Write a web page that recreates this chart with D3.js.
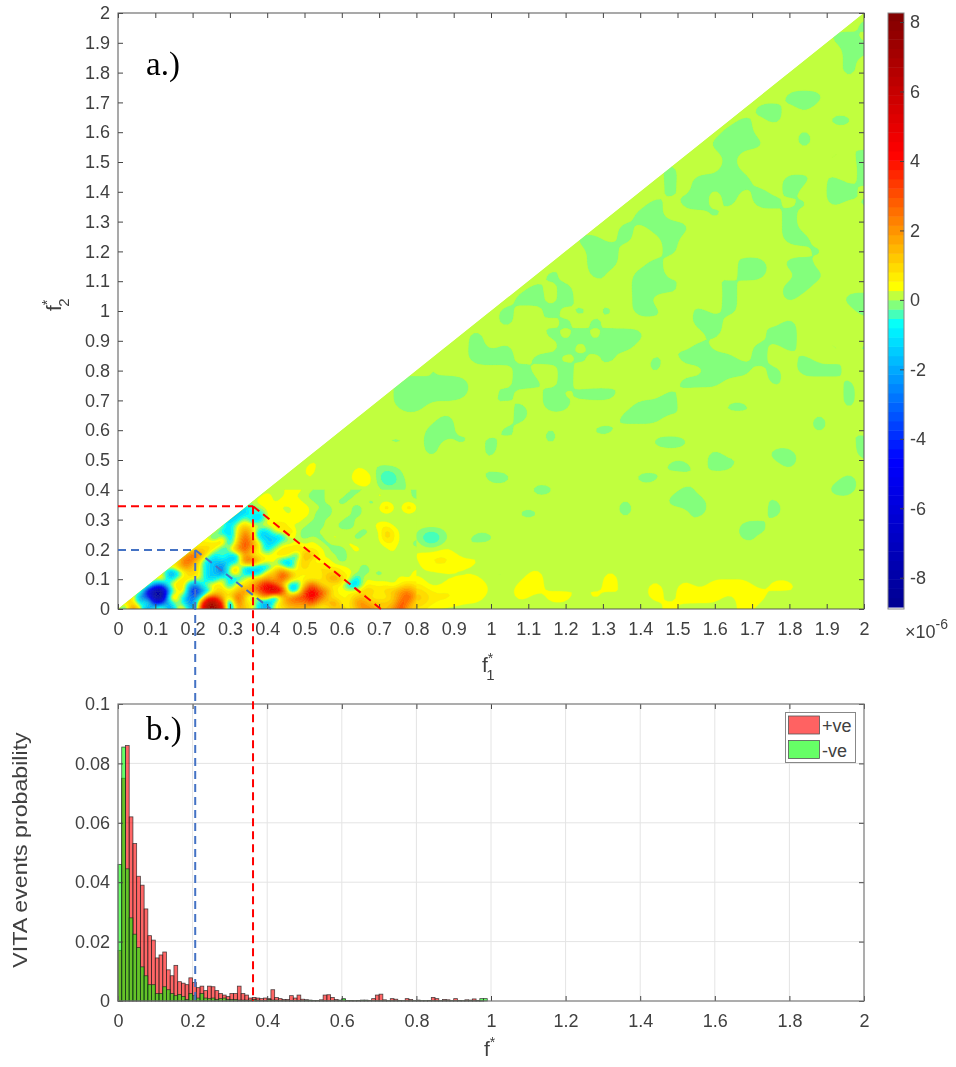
<!DOCTYPE html>
<html><head><meta charset="utf-8">
<script src="https://cdn.jsdelivr.net/npm/d3@7/dist/d3.min.js"></script>
<style>
html,body{margin:0;padding:0;background:#fff}
svg{display:block;filter:blur(0.45px)}
text{font-family:"Liberation Sans",Arial,sans-serif;fill:#404040}
.domain{display:none}
</style></head><body><div id="c"></div>
<script>
// ---------- data ----------
const ticksA = ["0","0.1","0.2","0.3","0.4","0.5","0.6","0.7","0.8","0.9","1","1.1","1.2","1.3","1.4","1.5","1.6","1.7","1.8","1.9","2"];
const ticksBx = ["0","0.2","0.4","0.6","0.8","1","1.2","1.4","1.6","1.8","2"];
const ticksBy = ["0","0.02","0.04","0.06","0.08","0.1"];
const cbTicks = [-8,-6,-4,-2,0,2,4,6,8];
const legendNames = ["+ve","-ve"];
// level key for fine field cells, in units of 1e-6
const levels = {D:-8.5,B:-6,b:-3.5,c:-1.5,m:-0.25,".":0.13,v:0.35,y:0.5,a:1.2,o:2.2,O:3.4,r:5,R:7.5};
// level key for coarse field cells
const coarseLevels = {c:-1.5,m:-0.15,n:-0.115,".":0.13,v:0.4,y:0.42,a:0.8,o:2};
// fine field: f2 = 0.02*k (row k), f1 = 0.02*c, each row starts at c = k and ends at c = 40
const fineRows = [
"ycOybyabya"+"boRRrboayc"+"cyyaaayyya"+"ayaooaaoOaa",
"yacyBbcyc"+"baRRObOyac"+"byaoooOaao"+"yyooaaaaOoy",
"abbDDoyc"+"bcoOayOaca"+"obaoOOrOay"+"yyaayyyaoOa",
"yBDDcya"+"BbcyayaooO"+"rRrccOrOoy"+"yyyaayaaooa",
"ybbyay"+"bcyaycayaO"+"rOaccaOayy"+"yccyyyy.yay",
"yacya"+"yyccaccyaa"+"oaOayyyyao"+"aycy....y.y",
"ybcy"+"ayccbyaccc"+"aaOoyyyyaa"+"yy.m.m....y",
"yao"+"ayccbyaccc"+"cyycyayayy"+"y..m.......",
"yO"+"oycccccOOa"+"yyccyay.y."+"m....v.....",
"a"+"Ooycyccoyy"+"yyaycoay.."+"m..........",
"yaaycyoOay"+"cyyaayyy.m"+"m.y....ym..",
"yyaacaOoy"+"ccymy.y.m."+".y....yy..m",
"ycacyOac"+"cccy.m.m.y"+"..m...ay...",
"yccyoac"+"cyya.mm..."+"...m..ay...",
"ycyayy"+"yya...mm.."+"mm...yy....",
"ccycc"+"yy.yy..m.."+".m.........",
"ccmc"+"yyy.yy.mm."+"..m........",
"cm."+"yy..yy..m."+"..m...a..a.",
".y"+"y.yyy..m.."+"m...m......",
"."+"y..y..mm.."+".m...y....m",
"...yy..m.."+"..m.......m"];
// coarse field: f2 = 0.04*j (row j), entries are "column i + level" at f1 = 0.04*i, all others are level "."
const coarseRows = [
"20a 37y 42y",
"20o 21a 22a 23y 24y 27y 29y 30y 32y 34y 36y 38y 39y 40y 42y 43y 46v 49v",
"20a 21m 22y 23y 24a 27y 28y 31y 33y 36y 38y 40y 41y 42y 44y 45v",
"25n 26m 28y 31m 33y",
"21a 22a 23y 24y 26y 30y 32n 34m 37y 39v 41m 45n",
"20y 22y 23m 29y 31n 43n 49n",
"21c 24m 25n 28n 33m 35m 42n 44n",
"21y 30m 38m 42n 43n 46n",
"27n 28n 31m 34m 39n 44m 47n 49m",
"21m 34n 37n 38n 39m 44n",
"19m 28m 29n 38n 43n 48m 49m",
"13y 14m 16y 17a 18c 22m 25m 26m 31m 35m 36n 39n 49m",
"13y 15m 16y 17m 24n 37n 38m 40n 41n 45n",
"14y 15m 18y 21n 25n 32n 34m 40m 42m 44m 45m 47m 50m",
"15y 16m 17y 18m 19n 21m 23m 25n 27n 29n 36n 37m 38n 50m",
"16y 17m 21n 22m 24n 26m 29n 32n 33n 45m 47n 49m",
"17m 18y 22m 27m 34m 35n 36n 38n 40n 43m 47m",
"19m 20m 25m 27n 29m 30n 35m 36m 37m 41n 42n 49n",
"19m 20m 21m 22m 23n 26m 29m 31n 32m 33m 37n 45n 49n",
"19m 20m 22m 23m 25n 27m 28n 30m 34n 38m 39n 40n 44n 49n",
"21n 27m 30m 32n 36n 40m 41m 42m 44m 46m 47m 48m",
"22n 24m 25m 26m 28n 29m 31n 33m 36n 38m 39n 40m 41n 43m 46n 49n",
"24m 26n 30m 32m 34m 37n 39m 43m 45m 48m 50n",
"24m 29m 31m 33m 34m 35n 40n 44m 45n 47n",
"26m 28n 30n 32n 37n 39m 40m 43n 45m 48m",
"26m 29m 31n 33m 35m 36n 39n 41m 50m",
"27m 28m 30m 32n 35m 38n 41m 45n 49m 50m",
"28n 30m 33n 35m 36m 37n 41m 45m 46n",
"29m 32n 35m 36m 38m 40m 42n 43n 46n 47n 49n",
"30n 32m 33m 36m 42n 43m 45m 46n",
"32m 33m 37m 41n 47m",
"31n 32n 34m 37m 40n 43n 45n 46m",
"34m 36m 37m 38n 42m 45m 49m",
"35m 36n 40m 45m",
"36m 38n 39m 41n 43n 44n 46m 48n 50n",
"37n 39m 41m 43m 45n 48m 49m",
"37n 39m 40n 41m 42m 45m 46n 48n 50n",
"37m 41m 47n 50n",
"41n 48m 50m",
"40n 41m 42n 43n 46m 49n",
"41m 42m 46n",
"42n 44m 48m 49n",
"43n 44n 46n",
"45n 46m 47n",
"",
"49m",
"49n",
"49n 50n",
"48n 49n",
"50m",
""];
// histogram: bins of width 0.01 starting at f* = 0
const posProb = [.017,.075,.086,.062,.053,.042,.039,.031,.022,.0205,.0145,.0155,.0165,.0105,.0085,.012,.0065,.006,.0055,.0078,
.0062,.0045,.005,.0035,.005,.0048,.0035,.0025,.002,.0015,.0025,.0025,.005,.0025,.002,.001,.0012,.001,.0008,.001,
.0008,.0038,.0012,.0008,.0005,.0005,.0018,.001,.002,.0006,.0004,.0002,.0002,.0002,.0004,.002,.0021,.0012,.0005,.0002,
.0004,.0002,.0002,.0001,.0001,.0001,.0002,.0002,.0008,.002,.0023,.0004,.0001,.0008,.0006,.0002,.0001,.0008,.0005,.0001,
.0003,.0001,.0001,.0002,.0012,.0008,.0001,.0005,.0004,.0001,.0008,.0002,.0001,.0004,.0003,.0007,.0002,.0001,.0,.0];
const negProb = [.046,.0855,.0445,.028,.0225,.018,.0115,.0085,.0055,.0055,.0025,.0025,.0048,.0038,.0025,.0018,.0022,.0015,.0005,.0025,
.0018,.001,.0025,.001,.0008,.001,.0005,.0008,.001,.0005,.0005,.0005,.0003,.0003,.0003,.0003,.0005,.0003,.0001,.0001,
.0005,.0003,.0003,.0001,.0001,.0001,.0002,.0001,.0002,.0001,.0003,.0003,.0001,.0001,.0001,.0001,.0001,.0001,.0001,.0003,
.0008,.0001,.0001,.0001,.0002,.0003,.0003,.0001,.0001,.0001,.0001,.0001,.0001,.0001,.0001,.0001,.0001,.0001,.0001,.0001,
.0001,.0001,.0001,.0001,.0001,.0001,.0001,.0001,.0001,.0001,.0001,.0001,.0001,.0001,.0001,.0001,.0001,.0008,.0008,.0];
// dashed guide lines, in data coordinates
const redGuideH = [[0,.345],[.362,.345]], redDiag = [[.362,.345],[.705,0]];
const blueGuideH = [[0,.198],[.207,.198]], blueDiag = [[.207,.198],[.41,0]];
const redGuideF = .362, blueGuideF = .207;

// ---------- helpers ----------
const W=956,H=1067;
const svg=d3.select("#c").append("svg").attr("width",W).attr("height",H);
const x=d3.scaleLinear().domain([0,2]).range([118,864]);
const y=d3.scaleLinear().domain([0,2]).range([609,13]);
const yb=d3.scaleLinear().domain([0,.1]).range([1001,704]);
const cbY=d3.scaleLinear().domain([-8.9,8.26]).range([609,13]);
const FS=18, GREY="#555", TXT="#404040";

// colormap: jet stops placed at the colorbar's values
const jetV=[-8.9,-4.6,-0.7,0.4,4.2,8.26];
const jetC=["rgb(0,0,143)","rgb(0,0,255)","rgb(0,255,255)","rgb(255,255,0)","rgb(255,0,0)","rgb(128,0,0)"];
const cmap=d3.scaleLinear().domain(jetV).range(jetC).interpolate(d3.interpolateRgb);
const STEP=0.268;
const bands=d3.range(-33,31).map(k=>k*STEP);

const defs=svg.append("defs");
const triPts=[[0,0],[2,0],[2,2]].map(d=>[x(d[0]),y(d[1])].join(",")).join(" ");
defs.append("clipPath").attr("id","tri").append("polygon").attr("points",triPts);
const finePts=[[0,0],[.8,0],[.8,.4],[.4,.4]].map(d=>[x(d[0]),y(d[1])].join(",")).join(" ");
defs.append("clipPath").attr("id","fineclip").append("polygon").attr("points",finePts);

// contour the read cells as a filled-contour plot: each cell is rendered as a soft spot, each colour band is a ring
const UP=4;
function drawField(parent,cells,n,m,step){
  const N=n*UP,M=m*UP,data=new Float64Array(N*M);
  for(let j=0;j<M;j++)for(let i=0;i<N;i++)data[i+j*N]=cells[Math.floor(i/UP)+Math.floor(j/UP)*n];
  d3.blur2({data,width:N,height:M},1.5);
  const path=d3.geoPath(d3.geoTransform({point(cx,cy){this.stream.point(x((cx/UP-.5)*step),y((cy/UP-.5)*step));}}));
  const cs=d3.contours().size([N,M]).thresholds(bands)(Array.from(data));
  const ds=cs.map(c=>path(c)||"");
  const rings=cs.map((c,i)=>({v:c.value,d:ds[i]+(ds[i+1]||"")})).filter(r=>r.d);
  parent.selectAll("path").data(rings).join("path").attr("d",d=>d.d).attr("fill-rule","evenodd")
    .attr("fill",d=>cmap(d.v+STEP/2)).attr("stroke",d=>cmap(d.v+STEP/2)).attr("stroke-width",.3);
}
svg.append("polygon").attr("points",triPts).attr("fill",cmap(0.134));
// coarse grid
{
  const n=51,vals=new Array(n*n).fill(coarseLevels["."]);
  coarseRows.forEach((row,j)=>{row.split(" ").filter(Boolean).forEach(t=>{
    vals[+t.slice(0,-1)+j*n]=coarseLevels[t.slice(-1)];});});
  drawField(svg.append("g").attr("clip-path","url(#tri)"),vals,n,n,.04);
}
// fine grid
{
  const n=41,m=fineRows.length,vals=new Array(n*m);
  fineRows.forEach((row,k)=>{for(let c=0;c<n;c++){
    const ch=c<k?row[0]:(row[c-k]||".");vals[c+k*n]=levels[ch];}});
  const g=svg.append("g").attr("clip-path","url(#tri)").append("g").attr("clip-path","url(#fineclip)");
  drawField(g,vals,n,m,.02);
}

function styleAxis(g){
  g.selectAll(".tick line").attr("stroke","#444").attr("stroke-width",1);
  g.selectAll(".tick text").attr("font-size",FS).attr("font-family",'"Liberation Sans",Arial,sans-serif').attr("fill",TXT);
}
function fmt(arr){return (d,i)=>arr[i];}
const valsA=ticksA.map(Number);
// plot a axes
svg.append("g").attr("transform",`translate(0,609)`).call(d3.axisBottom(x).tickValues(valsA).tickFormat(fmt(ticksA)).tickSize(-5).tickPadding(13)).call(styleAxis);
svg.append("g").attr("transform",`translate(118,0)`).call(d3.axisLeft(y).tickValues(valsA).tickFormat(fmt(ticksA)).tickSize(-5).tickPadding(8)).call(styleAxis);
svg.append("g").attr("transform",`translate(0,13)`).call(d3.axisTop(x).tickValues(valsA).tickFormat("").tickSize(-5)).call(styleAxis);
svg.append("g").attr("transform",`translate(864,0)`).call(d3.axisRight(y).tickValues(valsA).tickFormat("").tickSize(-5)).call(styleAxis);
svg.append("rect").attr("x",118).attr("y",13).attr("width",746).attr("height",596).attr("fill","none").attr("stroke",GREY).attr("stroke-width",1);

// colorbar
svg.append("g").selectAll("rect").data(bands).join("rect")
  .attr("x",888).attr("width",16)
  .attr("y",d=>cbY(Math.min(d+STEP,8.26)))
  .attr("height",d=>Math.max(0,cbY(Math.max(d,-8.9))-cbY(Math.min(d+STEP,8.26)))+.5)
  .attr("fill",d=>cmap(d+STEP/2));
svg.append("rect").attr("x",888).attr("y",cbY(8.26)).attr("width",16).attr("height",cbY(-8.9)-cbY(8.26)).attr("fill","none").attr("stroke","#888");
svg.append("g").attr("transform","translate(904,0)").call(d3.axisRight(cbY).tickValues(cbTicks).tickFormat(d=>String(d)).tickSize(-4).tickPadding(6)).call(styleAxis);
const tx=svg.append("text").attr("x",905).attr("y",638).attr("font-size",18).attr("fill","#777");
tx.append("tspan").text("×10");
tx.append("tspan").attr("dy",-9).attr("font-size",14).text("-6");

// axis labels
function flabel(px,py,sub,rot){
  const t=svg.append("text").attr("font-size",21).attr("fill",TXT);
  if(rot) t.attr("transform",`translate(${px},${py}) rotate(-90)`); else t.attr("x",px).attr("y",py);
  t.append("tspan").text("f");
  t.append("tspan").attr("dy",-9).attr("font-size",14).text("*");
  if(sub){t.append("tspan").attr("dy",17).attr("dx",-7).attr("font-size",15).text(sub);}
}
flabel(482,672,"1",false);
flabel(61,311,"2",true);
flabel(484,1056,null,false);
svg.append("text").attr("transform","translate(27,850) rotate(-90) scale(1.16,1)").attr("text-anchor","middle").attr("font-size",20).attr("fill",TXT).text("VITA events probability");

// panel labels
[["a.)",146,75],["b.)",146,740]].forEach(d=>svg.append("text").attr("x",d[1]).attr("y",d[2]).attr("font-size",33)
  .style("font-family",'"Liberation Serif",serif').style("fill","#000").text(d[0]));

// plot b grid
const bxVals=ticksBx.map(Number), byVals=ticksBy.map(Number);
svg.append("g").selectAll("line").data(bxVals.slice(1,-1)).join("line").attr("x1",d=>x(d)).attr("x2",d=>x(d)).attr("y1",yb(0)).attr("y2",yb(.1)).attr("stroke","#e4e4e4");
svg.append("g").selectAll("line").data(byVals.slice(1,-1)).join("line").attr("y1",d=>yb(d)).attr("y2",d=>yb(d)).attr("x1",x(0)).attr("x2",x(2)).attr("stroke","#e4e4e4");
// bars
const bw=.01;
function bars(vals,fill){
  svg.append("g").selectAll("rect").data(vals).join("rect")
   .attr("x",(d,i)=>x(i*bw)).attr("width",x(bw)-x(0))
   .attr("y",d=>yb(d)).attr("height",d=>yb(0)-yb(d))
   .attr("fill",fill).attr("fill-opacity",.6).attr("stroke","#222").attr("stroke-opacity",.8).attr("stroke-width",.8);
}
bars(posProb,"#ff0000");
bars(negProb,"#00ff00");
svg.append("g").attr("transform","translate(0,1001)").call(d3.axisBottom(x).tickValues(bxVals).tickFormat(fmt(ticksBx)).tickSize(-5).tickPadding(13)).call(styleAxis);
svg.append("g").attr("transform","translate(118,0)").call(d3.axisLeft(yb).tickValues(byVals).tickFormat(fmt(ticksBy)).tickSize(-5).tickPadding(8)).call(styleAxis);
svg.append("g").attr("transform","translate(0,704)").call(d3.axisTop(x).tickValues(bxVals).tickFormat("").tickSize(-5)).call(styleAxis);
svg.append("g").attr("transform","translate(864,0)").call(d3.axisRight(yb).tickValues(byVals).tickFormat("").tickSize(-5)).call(styleAxis);
svg.append("rect").attr("x",118).attr("y",704).attr("width",746).attr("height",297).attr("fill","none").attr("stroke","#777").attr("stroke-width",1.2);

// legend
const lg=svg.append("g");
lg.append("rect").attr("x",785.5).attr("y",712.5).attr("width",70).attr("height",50).attr("fill","#fff").attr("stroke","#888");
legendNames.forEach((n,i)=>{
  lg.append("rect").attr("x",788.5).attr("y",716+i*24.5).attr("width",31).attr("height",18)
    .attr("fill",i?"#66ff66":"#ff6262").attr("stroke","#555").attr("stroke-width",.8);
  lg.append("text").attr("x",822).attr("y",732+i*24.5).attr("font-size",18).attr("fill",TXT).text(n);
});

// guides
const line=(sx,sy)=>d3.line().x(d=>sx(d[0])).y(d=>sy(d[1]));
function guide(pts,c){svg.append("path").attr("d",line(x,y)(pts)).attr("fill","none").attr("stroke",c).attr("stroke-width",2).attr("stroke-dasharray","8,5");}
const RED="#ff0000",BLUE="#4472c4";
guide(blueGuideH,BLUE);guide(blueDiag,BLUE);guide(redGuideH,RED);guide(redDiag,RED);
svg.append("line").attr("x1",x(blueGuideF)).attr("x2",x(blueGuideF)).attr("y1",y(.198)).attr("y2",yb(0)).attr("stroke",BLUE).attr("stroke-width",2).attr("stroke-dasharray","8,5");
svg.append("line").attr("x1",x(redGuideF)).attr("x2",x(redGuideF)).attr("y1",y(.345)).attr("y2",yb(0)).attr("stroke",RED).attr("stroke-width",2).attr("stroke-dasharray","8,5");
</script></body></html>
